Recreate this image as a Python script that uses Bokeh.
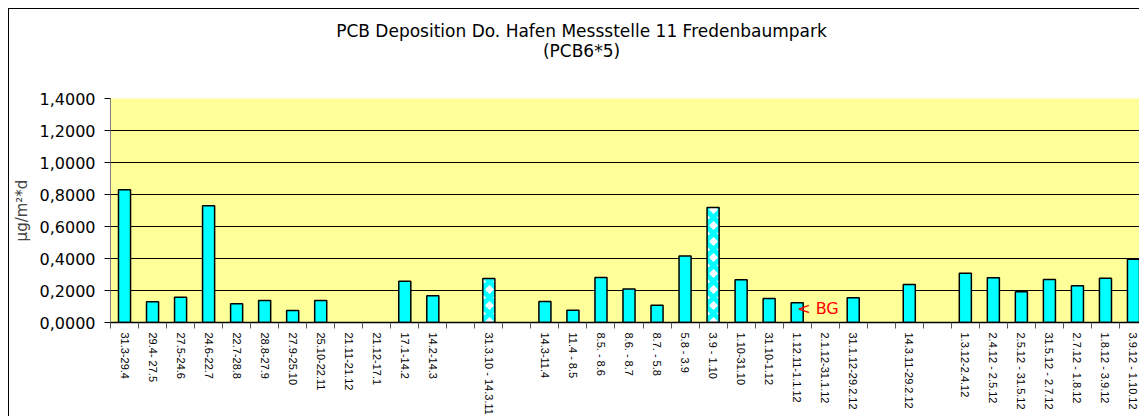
import math
from bokeh.plotting import figure
from bokeh.models import FixedTicker, Label, Range1d, ColumnDataSource
from bokeh.embed import file_html
from bokeh.resources import INLINE

categories = [
    "31.3-29.4", "29.4- 27.5", "27.5-24.6", "24.6-22.7", "22.7-28.8",
    "28.8-27.9", "27.9-25.10", "25.10-22.11", "21.11-21.12", "21.12-17.1",
    "17.1-14.2", "14.2-14.3", "", "31.3.10 - 14.3.11", "",
    "14.3-11.4", "11.4 - 8.5", "8.5. - 8.6", "8.6. - 8.7", "8.7. - 5.8",
    "5.8 - 3.9", "3.9 - 1.10", "1.10-31.10", "31.10-1.12", "1.12.11-1.1.12",
    "2.1.12-31.1.12", "31.1.12-29.2.12", "", "14.3.11-29.2.12", "",
    "1.3.12-2.4.12", "2.4.12 - 2.5.12", "2.5.12 - 31.5.12", "31.5.12 - 2.7.12",
    "2.7.12 - 1.8.12", "1.8.12 - 3.9.12", "3.9.12 - 1.10.12",
]
values = [
    0.830, 0.129, 0.158, 0.729, 0.117,
    0.138, 0.075, 0.138, None, None,
    0.258, 0.167, None, 0.275, None,
    0.131, 0.077, 0.281, 0.210, 0.108,
    0.415, 0.719, 0.267, 0.150, 0.123,
    None, 0.154, None, 0.238, None,
    0.308, 0.279, 0.192, 0.269, 0.229, 0.277, 0.396,
]
# periods shown with a patterned bar
patterned = ["31.3.10 - 14.3.11", "3.9 - 1.10"]
bg_category = "1.12.11-1.1.12"
bg_text = "< BG"
y_ticks = [0.0, 0.2, 0.4, 0.6, 0.8, 1.0, 1.2, 1.4]
title_lines = ["PCB Deposition Do. Hafen Messstelle 11 Fredenbaumpark", "(PCB6*5)"]
y_label = "µg/m²*d"

FONT = "DejaVu Sans"
XFONT = "Liberation Sans"
xs = list(range(len(categories)))

plain = dict(x=[], top=[])
pat = dict(x=[], top=[])
for i, (c, v) in enumerate(zip(categories, values)):
    if v is None:
        continue
    d = pat if c in patterned else plain
    d["x"].append(i)
    d["top"].append(v)

p = figure(
    width=1131, height=408,
    x_range=Range1d(-0.5, 36.25), y_range=Range1d(0, 1.4),
    output_backend="svg", toolbar_location=None,
    min_border_left=101, min_border_right=0, min_border_top=89, min_border_bottom=95,
    background_fill_color="#FFFF99", border_fill_color="white",
    outline_line_color=None,
    styles={"margin-left": "8px", "margin-top": "8px",
            "border-left": "1px solid black", "border-top": "1px solid black"},
)

p.vbar(x="x", top="top", bottom=0, width=0.43, source=ColumnDataSource(plain),
       fill_color="#00FFFF", line_color="black", line_width=1.5)
p.vbar(x="x", top="top", bottom=0, width=0.43, source=ColumnDataSource(pat),
       fill_color="white", line_color="black", line_width=1.5,
       hatch_pattern="diagonal_cross", hatch_color="#00FFFF", hatch_scale=16, hatch_weight=5)

# x axis
p.xaxis.ticker = FixedTicker(ticks=xs, minor_ticks=[i - 0.5 for i in range(len(categories) + 1)])
p.xaxis.major_label_overrides = {i: c for i, c in enumerate(categories)}
p.xaxis.major_label_orientation = -math.pi / 2
p.xaxis.major_label_text_font = XFONT
p.xaxis.major_label_text_font_size = "11px"
p.xaxis.major_label_text_color = "black"
p.xaxis.major_label_standoff = 4
p.xaxis.major_tick_line_color = None
p.xaxis.major_tick_out = 0
p.xaxis.major_tick_in = 0
p.xaxis.minor_tick_line_color = "#555555"
p.xaxis.minor_tick_out = 6
p.xaxis.minor_tick_in = 0
p.xaxis.axis_line_color = "black"
p.xaxis.axis_line_width = 1.5
p.xgrid.visible = False

# y axis
p.yaxis.ticker = FixedTicker(ticks=y_ticks, minor_ticks=[])
p.yaxis.major_label_overrides = {v: f"{v:.4f}".replace(".", ",") for v in y_ticks}
p.yaxis.major_label_text_font = FONT
p.yaxis.major_label_text_font_size = "16px"
p.yaxis.major_label_text_color = "black"
p.yaxis.major_label_standoff = 9
p.yaxis.major_tick_out = 6
p.yaxis.major_tick_in = 0
p.yaxis.major_tick_line_color = "black"
p.yaxis.axis_line_color = "#808080"
p.yaxis.axis_label = y_label
p.yaxis.axis_label_text_font = FONT
p.yaxis.axis_label_text_font_size = "15px"
p.yaxis.axis_label_text_font_style = "normal"
p.yaxis.axis_label_standoff = 6
p.ygrid.ticker = FixedTicker(ticks=y_ticks[1:-1])
p.ygrid.grid_line_color = "black"
p.ygrid.grid_line_width = 1

# titles, placed in the panel above the plot area (each label gets its own stacked box)
for line, yy in zip(title_lines, [68, 28]):
    p.add_layout(Label(x=471, y=yy, x_units="screen", y_units="screen", text=line,
                       text_align="center", text_baseline="middle",
                       text_font=FONT, text_font_size="17px", text_color="black"), "above")

# BG annotation
p.add_layout(Label(x=categories.index(bg_category), y=0.0875, text=bg_text,
                   text_align="left", text_baseline="middle",
                   text_font=FONT, text_font_size="16px", text_color="#FF0000"))

open("out.html", "w").write(file_html(p, INLINE))
